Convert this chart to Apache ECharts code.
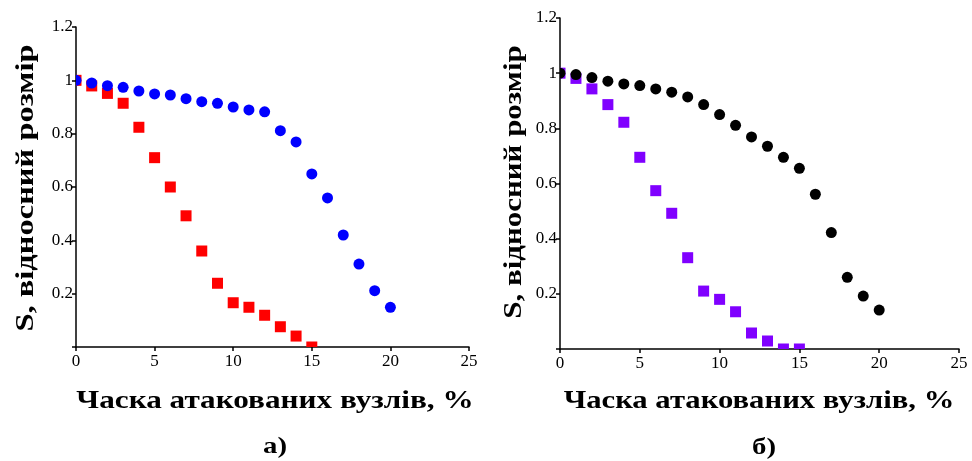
<!DOCTYPE html>
<html lang="uk">
<head>
    <meta charset="utf-8">
    <title>Відносний розмір кластера</title>
    <script src="https://cdn.jsdelivr.net/npm/echarts@6/dist/echarts.min.js"></script>
    <style>
        html, body { margin: 0; background: #fff; }
        #main { width: 972px; height: 461px; }
    </style>
</head>
<body>
<div id="main"></div>
<script type="text/javascript">
    // частка атакованих вузлів, %
    var attacked = [0, 1, 2, 3, 4, 5, 6, 7, 8, 9, 10, 11, 12, 13, 14, 15, 16, 17, 18, 19, 20];
    // а) сині кола та червоні квадрати
    var blueA = [1.0, 0.99, 0.98, 0.974, 0.96, 0.949, 0.945, 0.931, 0.92, 0.914, 0.90, 0.889, 0.882, 0.811, 0.769, 0.649, 0.559, 0.42, 0.311, 0.211, 0.149];
    var redA = [1.0, 0.979, 0.951, 0.914, 0.824, 0.71, 0.60, 0.492, 0.36, 0.239, 0.166, 0.149, 0.119, 0.076, 0.041, 0.0];
    // б) чорні кола та фіолетові квадрати
    var blackB = [1.0, 0.995, 0.984, 0.971, 0.961, 0.955, 0.943, 0.931, 0.914, 0.886, 0.85, 0.811, 0.769, 0.735, 0.695, 0.655, 0.561, 0.422, 0.26, 0.192, 0.141];
    var purpleB = [1.0, 0.981, 0.943, 0.886, 0.822, 0.695, 0.574, 0.492, 0.331, 0.21, 0.18, 0.135, 0.058, 0.029, 0.0, 0.0];

    var xName = 'Часка атакованих вузлів, %';
    var yName = 'S, відносний розмір';
    var serif = 'Liberation Serif';

    function pairs(vals) {
        return vals.map(function (v, i) { return [attacked[i], v]; });
    }

    // маркери малюються кастомною серією, щоб обрізались по осях як в оригіналі
    function marker(shape, color) {
        return function (params, api) {
            var p = api.coord([api.value(0), api.value(1)]);
            var r = 5.5;
            if (shape === 'rect') {
                return { type: 'rect', shape: { x: p[0] - r, y: p[1] - r, width: 2 * r, height: 2 * r }, style: { fill: color } };
            }
            return { type: 'circle', shape: { cx: p[0], cy: p[1], r: r }, style: { fill: color } };
        };
    }

    var chart = echarts.init(document.getElementById('main'));

    var lineStyle = { color: '#000', width: 1.5 };
    var labelStyle = { color: '#000', fontFamily: serif, fontSize: 17 };

    function xAxes(gridIndex) {
        return [{
            type: 'value', gridIndex: gridIndex, min: 0, max: 25, interval: 5,
            axisLine: { lineStyle: lineStyle },
            axisTick: { length: 4, lineStyle: lineStyle },
            axisLabel: Object.assign({ margin: 6 }, labelStyle),
            splitLine: { show: false }
        }, {
            type: 'value', gridIndex: gridIndex, min: 0, max: 25, interval: 5,
            axisLine: { show: false },
            axisTick: { inside: true, length: 4, lineStyle: lineStyle },
            axisLabel: { show: false },
            splitLine: { show: false }
        }];
    }
    function yAxes(gridIndex) {
        return [{
            type: 'value', gridIndex: gridIndex, min: 0, max: 1.2, interval: 0.2,
            axisLine: { lineStyle: lineStyle },
            axisTick: { length: 4, lineStyle: lineStyle },
            axisLabel: Object.assign({
                margin: 3,
                formatter: function (v) { return v === 0 ? '' : String(+v.toFixed(1)); }
            }, labelStyle),
            splitLine: { show: false }
        }, {
            type: 'value', gridIndex: gridIndex, min: 0, max: 1.2, interval: 0.2,
            axisLine: { show: false },
            axisTick: { inside: true, length: 4, lineStyle: lineStyle },
            axisLabel: { show: false },
            splitLine: { show: false }
        }];
    }

    function markSeries(axisIndex, shape, color, vals) {
        return {
            type: 'custom', xAxisIndex: axisIndex, yAxisIndex: axisIndex, clip: true,
            renderItem: marker(shape, color), encode: { x: 0, y: 1 },
            data: pairs(vals)
        };
    }

    var option = {
        backgroundColor: '#fff',
        animation: false,
        grid: [
            { left: 76, top: 27, width: 393, height: 320 },
            { left: 560, top: 18, width: 399, height: 331 }
        ],
        xAxis: xAxes(0).concat(xAxes(1)),
        yAxis: yAxes(0).concat(yAxes(1)),
        series: [
            markSeries(0, 'rect', '#ff0000', redA),
            markSeries(0, 'circle', '#0000ff', blueA),
            markSeries(2, 'rect', '#8000ff', purpleB),
            markSeries(2, 'circle', '#000000', blackB)
        ],
        graphic: [
            { type: 'text', x: 275, y: 401, scaleX: 1.2, style: { text: xName, fill: '#000', font: 'bold 26px ' + serif, align: 'center', verticalAlign: 'middle' } },
            { type: 'text', x: 759, y: 401, scaleX: 1.18, style: { text: xName, fill: '#000', font: 'bold 26px ' + serif, align: 'center', verticalAlign: 'middle' } },
            { type: 'text', x: 26, y: 188, rotation: Math.PI / 2, scaleX: 1.25, style: { text: yName, fill: '#000', font: 'bold 26px ' + serif, align: 'center', verticalAlign: 'middle' } },
            { type: 'text', x: 514, y: 182, rotation: Math.PI / 2, scaleX: 1.19, style: { text: yName, fill: '#000', font: 'bold 26px ' + serif, align: 'center', verticalAlign: 'middle' } },
            { type: 'text', x: 275, y: 447, scaleX: 1.2, style: { text: 'а)', fill: '#000', font: 'bold 24px ' + serif, align: 'center', verticalAlign: 'middle' } },
            { type: 'text', x: 764, y: 448, scaleX: 1.2, style: { text: 'б)', fill: '#000', font: 'bold 24px ' + serif, align: 'center', verticalAlign: 'middle' } }
        ]
    };

    chart.setOption(option);
</script>
</body>
</html>
